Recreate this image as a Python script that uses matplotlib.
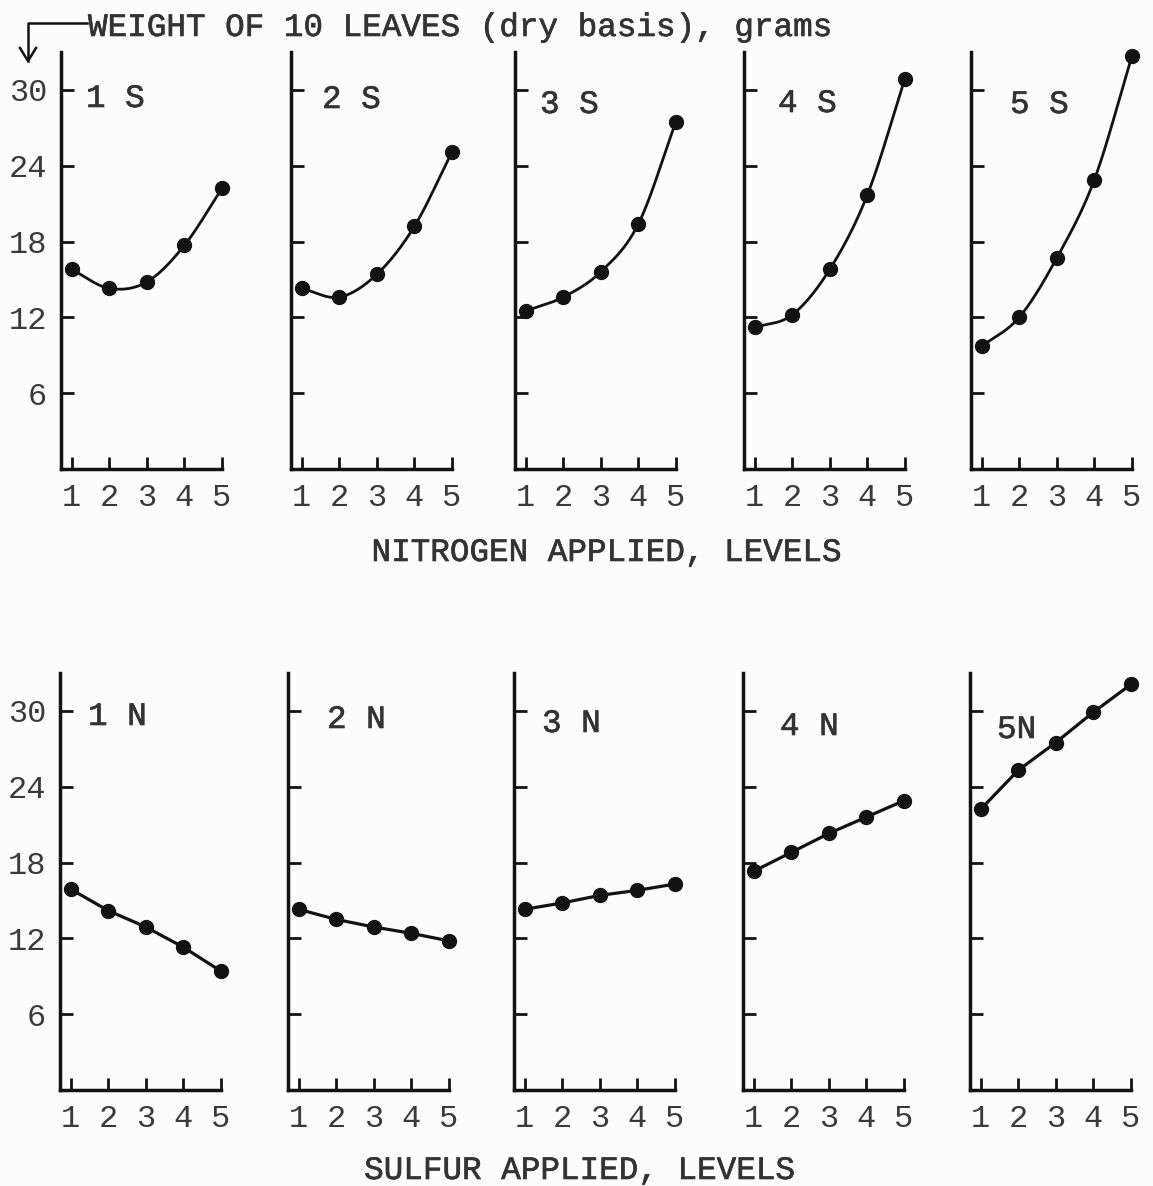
import matplotlib.pyplot as plt
import matplotlib.patheffects as pe
import numpy as np

plt.rcParams['font.family'] = ['Liberation Mono', 'DejaVu Sans Mono']

levels = [1, 2, 3, 4, 5]
y_ticks = [6, 12, 18, 24, 30]

# weight of 10 leaves against nitrogen level, one panel per sulfur level
sulfur_labels = ['1 S', '2 S', '3 S', '4 S', '5 S']
weight_by_n = [
    [15.8, 14.3, 14.8, 17.7, 22.2],
    [14.3, 13.6, 15.4, 19.2, 25.1],
    [12.5, 13.6, 15.6, 19.4, 27.5],
    [11.2, 12.2, 15.8, 21.7, 30.9],
    [9.7, 12.0, 16.7, 22.9, 32.7],
]

# weight of 10 leaves against sulfur level, one panel per nitrogen level
nitrogen_labels = ['1 N', '2 N', '3 N', '4 N', '5N']
weight_by_s = [
    [15.9, 14.2, 12.9, 11.3, 9.4],
    [14.3, 13.5, 12.9, 12.4, 11.8],
    [14.3, 14.8, 15.4, 15.8, 16.3],
    [17.3, 18.8, 20.3, 21.6, 22.9],
    [22.2, 25.3, 27.5, 29.9, 32.1],
]

INK = '#121212'
TYPE = '#333333'
W, H = 1153, 1186
ink_fx = [pe.withStroke(linewidth=0.45, foreground=TYPE)]

# layout in pixels
col_left = [[61, 291, 515, 744, 971], [60, 288, 514, 743, 970]]
row_bottom = [469, 1090]
ax_w, ax_h = 161, 417
# panel label offsets from the lower-left corner of each panel (px)
label_dx = [[25, 31, 25, 34, 39], [28, 39, 28, 37, 27]]
label_dy = [[362, 361, 356, 357, 356], [365, 362, 358, 355, 352]]


def smooth_curve(x, y, n=40):
    # Catmull-Rom spline through the measured points
    pts = np.column_stack([x, y]).astype(float)
    p = np.vstack([2 * pts[0] - pts[1], pts, 2 * pts[-1] - pts[-2]])
    t = np.linspace(0, 1, n)[:, None]
    segs = []
    for i in range(1, len(p) - 2):
        p0, p1, p2, p3 = p[i - 1], p[i], p[i + 1], p[i + 2]
        segs.append(0.5 * (2 * p1 + (-p0 + p2) * t
                           + (2 * p0 - 5 * p1 + 4 * p2 - p3) * t ** 2
                           + (-p0 + 3 * p1 - 3 * p2 + p3) * t ** 3))
    c = np.vstack(segs)
    return c[:, 0], c[:, 1]


fig = plt.figure(figsize=(W / 100, H / 100), dpi=100)
fig.patch.set_facecolor('#fcfcfc')

rows = [(sulfur_labels, weight_by_n, True), (nitrogen_labels, weight_by_s, False)]
for r, (labels, series, curved) in enumerate(rows):
    for c in range(5):
        ax = fig.add_axes([col_left[r][c] / W, 1 - row_bottom[r] / H, ax_w / W, ax_h / H])
        ax.set_facecolor('none')
        vals = series[c]
        if curved:
            sx, sy = smooth_curve(levels, vals)
            ax.plot(sx, sy, color=INK, lw=2.0, clip_on=False)
        else:
            ax.plot(levels, vals, color=INK, lw=2.3, clip_on=False)
        ax.plot(levels, vals, 'o', color=INK, ms=10, clip_on=False)

        ax.set_xlim(0.72, 5.0)
        ax.set_ylim(0, 33)
        ax.set_xticks(levels)
        ax.set_yticks(y_ticks)
        for side in ['top', 'right']:
            ax.spines[side].set_visible(False)
        for side in ['left', 'bottom']:
            ax.spines[side].set_linewidth(2.5)
            ax.spines[side].set_color(INK)
        ax.tick_params(direction='in', length=9, width=2, color=INK,
                       labelsize=23, labelcolor='#3a3a3a')
        ax.tick_params(axis='x', pad=10)
        ax.tick_params(axis='y', pad=10, labelleft=(c == 0))
        ax.annotate(labels[c], xy=(label_dx[r][c], label_dy[r][c]), xycoords='axes pixels',
                    ha='left', va='baseline', fontsize=23.5, color=TYPE, path_effects=ink_fx)

fig.text(88 / W, 1 - 36 / H, 'WEIGHT OF 10 LEAVES (dry basis), grams',
         ha='left', va='baseline', fontsize=23.5, color=TYPE, path_effects=ink_fx)
fig.text(607 / W, 1 - 561 / H, 'NITROGEN APPLIED, LEVELS',
         ha='center', va='baseline', fontsize=23.5, color=TYPE, path_effects=ink_fx)
fig.text(580 / W, 1 - 1179 / H, 'SULFUR APPLIED, LEVELS',
         ha='center', va='baseline', fontsize=23.5, color=TYPE, path_effects=ink_fx)

# bent arrow pointing from the axis title down to the first panel
fig.add_artist(plt.Line2D([28 / W, 28 / W, 87 / W], [1 - 61 / H, 1 - 23 / H, 1 - 23 / H],
                          color=INK, lw=1.8))
fig.add_artist(plt.Line2D([20 / W, 28 / W, 36 / W], [1 - 48 / H, 1 - 61 / H, 1 - 48 / H],
                          color=INK, lw=1.8))

fig.savefig('out.png', dpi=100, facecolor=fig.get_facecolor())
